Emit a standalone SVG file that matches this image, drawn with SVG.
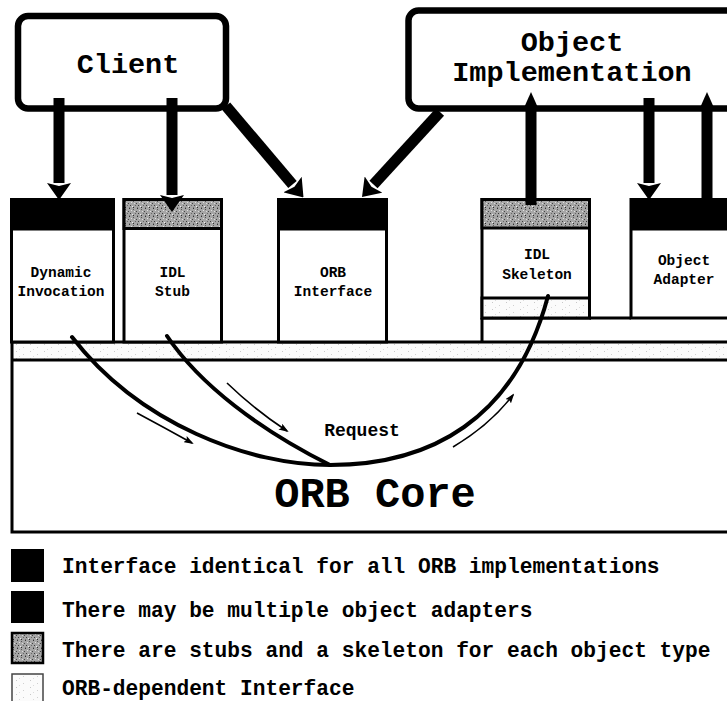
<svg xmlns="http://www.w3.org/2000/svg" width="727" height="701" viewBox="0 0 727 701">
  <style>
    .mono { font-family: "Liberation Mono", "DejaVu Sans Mono", monospace; font-weight: bold; fill: #000; }
    .big { font-size: 28.5px; text-anchor: middle; }
    .lbl { font-size: 14.5px; text-anchor: middle; }
    .legend { font-size: 21.2px; }
    .rbox { fill: #fff; stroke: #000; stroke-width: 6.5; }
    .box { fill: #fff; stroke: #000; stroke-width: 3; }
    .stip { fill: url(#stipple); stroke: #000; stroke-width: 3; }
    .spk { fill: url(#speckle); stroke: #000; stroke-width: 3; }
    .line { fill: none; stroke: #000; stroke-width: 3; }
    .thick { fill: none; stroke: #000; stroke-width: 11; }
    .flow { fill: none; stroke: #000; stroke-width: 4; stroke-linecap: round; }
    .thin { fill: none; stroke: #000; stroke-width: 1.6; }
  </style>
  <defs>
    <!-- grainy grey stipple for stub/skeleton headers -->
    <pattern id="stipple" width="8" height="8" patternUnits="userSpaceOnUse">
      <rect width="8" height="8" fill="#a6a6a6"/>
      <rect x="1" y="0" width="1" height="1" fill="#333"/>
      <rect x="5" y="1" width="1" height="1" fill="#555"/>
      <rect x="3" y="2" width="1" height="1" fill="#e0e0e0"/>
      <rect x="0" y="3" width="1" height="1" fill="#444"/>
      <rect x="6" y="3" width="1" height="1" fill="#ddd"/>
      <rect x="2" y="5" width="1" height="1" fill="#3a3a3a"/>
      <rect x="7" y="5" width="1" height="1" fill="#666"/>
      <rect x="4" y="6" width="1" height="1" fill="#eee"/>
      <rect x="1" y="7" width="1" height="1" fill="#777"/>
      <rect x="5" y="7" width="1" height="1" fill="#2a2a2a"/>
    </pattern>
    <!-- faint speckle for ORB-dependent interface areas -->
    <pattern id="speckle" width="14" height="7" patternUnits="userSpaceOnUse">
      <rect width="14" height="7" fill="#fbfbfb"/>
      <rect x="2" y="1" width="1" height="1" fill="#c8c8c8"/>
      <rect x="9" y="4" width="1" height="1" fill="#d0d0d0"/>
      <rect x="5" y="6" width="1" height="1" fill="#dcdcdc"/>
    </pattern>
    <marker id="head" markerUnits="userSpaceOnUse" viewBox="0 -12 17 24" markerWidth="17" markerHeight="24" refX="0" refY="0" orient="auto">
      <path d="M0,-12 L17,0 L0,12 L3,0 Z" fill="#000"/>
    </marker>
    <marker id="headUp" markerUnits="userSpaceOnUse" viewBox="0 -8 18 16" markerWidth="18" markerHeight="16" refX="0" refY="0" orient="auto">
      <path d="M0,-8 L18,0 L0,8 Z" fill="#000"/>
    </marker>
    <marker id="tip" markerUnits="userSpaceOnUse" viewBox="0 -3.5 10 7" markerWidth="10" markerHeight="7" refX="8" refY="0" orient="auto">
      <path d="M0,-3.5 L10,0 L0,3.5 L2,0 Z" fill="#000"/>
    </marker>
  </defs>

  <!-- ORB core and the ORB-dependent band -->
  <g id="orb-core">
    <rect x="12" y="342" width="730" height="18" fill="url(#speckle)"/>
    <path class="line" d="M12,342 H727 M12,360 H727 M12,342 V532 H727"/>
    <text class="mono" x="375" y="507" font-size="42" text-anchor="middle">ORB Core</text>
  </g>

  <g id="client">
    <rect class="rbox" x="18" y="16" width="208" height="92.5" rx="10"/>
    <text class="mono big" x="128" y="73">Client</text>
  </g>

  <g id="object-implementation">
    <rect class="rbox" x="408.5" y="10.5" width="330" height="98" rx="10"/>
    <text class="mono big" x="572" y="51">Object</text>
    <text class="mono big" x="572" y="81">Implementation</text>
  </g>

  <g id="dynamic-invocation">
    <rect class="box" x="11.5" y="199.5" width="102" height="142.5"/>
    <rect x="11.5" y="199.5" width="102" height="31" fill="#000"/>
    <text class="mono lbl" x="61" y="277">Dynamic</text>
    <text class="mono lbl" x="61" y="296">Invocation</text>
  </g>

  <g id="idl-stub">
    <rect class="box" x="124" y="199.5" width="97.5" height="142.5"/>
    <rect class="stip" x="124" y="199.5" width="97.5" height="29"/>
    <text class="mono lbl" x="172.5" y="277">IDL</text>
    <text class="mono lbl" x="172.5" y="296">Stub</text>
  </g>

  <g id="orb-interface">
    <rect class="box" x="278.5" y="199.5" width="108" height="142.5"/>
    <rect x="278.5" y="199.5" width="108" height="31" fill="#000"/>
    <text class="mono lbl" x="333" y="277">ORB</text>
    <text class="mono lbl" x="333" y="296">Interface</text>
  </g>

  <g id="idl-skeleton">
    <rect class="box" x="482" y="199.5" width="107.5" height="118.5"/>
    <rect class="stip" x="482" y="199.5" width="107.5" height="28.5"/>
    <rect class="spk" x="482" y="298" width="107.5" height="20"/>
    <path class="line" d="M482,318 V342 M589.5,318 H631"/>
    <text class="mono lbl" x="537" y="259">IDL</text>
    <text class="mono lbl" x="537" y="279">Skeleton</text>
  </g>

  <g id="object-adapter">
    <rect class="box" x="631" y="199.5" width="110" height="118.5"/>
    <rect x="631" y="199.5" width="110" height="31" fill="#000"/>
    <text class="mono lbl" x="684" y="265">Object</text>
    <text class="mono lbl" x="684" y="284">Adapter</text>
  </g>

  <g id="connectors">
    <!-- calls from the client -->
    <line class="thick" x1="59" y1="98" x2="59" y2="183" marker-end="url(#head)"/>
    <line class="thick" x1="172" y1="98" x2="172" y2="195" marker-end="url(#head)"/>
    <line class="thick" stroke-width="12" x1="226" y1="106" x2="292.5" y2="184.5" marker-end="url(#head)"/>
    <!-- object implementation links -->
    <line class="thick" stroke-width="12" x1="440" y1="112" x2="373.5" y2="184.5" marker-end="url(#head)"/>
    <line class="thick" stroke-width="10" x1="531" y1="205" x2="531" y2="110" marker-end="url(#headUp)"/>
    <line class="thick" stroke-width="10" x1="649" y1="98" x2="649" y2="183" marker-end="url(#head)"/>
    <line class="thick" stroke-width="10" x1="707" y1="198" x2="707" y2="110" marker-end="url(#headUp)"/>

    <!-- request path through the ORB core -->
    <path class="flow" d="M72,337 C140,425 250,465 330,465 C430,465 515,420 548,296"/>
    <path class="flow" d="M167,336 C200,385 260,430 330,465"/>
    <path class="thin" d="M137,413 Q165,428 192,443" marker-end="url(#tip)"/>
    <path class="thin" d="M227,383 Q255,410 287,431" marker-end="url(#tip)"/>
    <path class="thin" d="M453,447 Q490,425 513,395" marker-end="url(#tip)"/>
    <text class="mono" x="362" y="436" font-size="18" text-anchor="middle">Request</text>
  </g>

  <!-- key -->
  <g id="legend">
    <rect x="11" y="549" width="33" height="33" fill="#000"/>
    <rect x="11" y="591" width="33" height="32" fill="#000"/>
    <rect x="12" y="633" width="31" height="30" fill="url(#stipple)" stroke="#000" stroke-width="2.5"/>
    <rect x="12" y="674" width="31" height="32" fill="url(#speckle)" stroke="#444" stroke-width="1.5"/>
    <text class="mono legend" x="62" y="573">Interface identical for all ORB implementations</text>
    <text class="mono legend" x="62" y="617">There may be multiple object adapters</text>
    <text class="mono legend" x="62" y="657">There are stubs and a skeleton for each object type</text>
    <text class="mono legend" x="62" y="695">ORB-dependent Interface</text>
  </g>
</svg>
